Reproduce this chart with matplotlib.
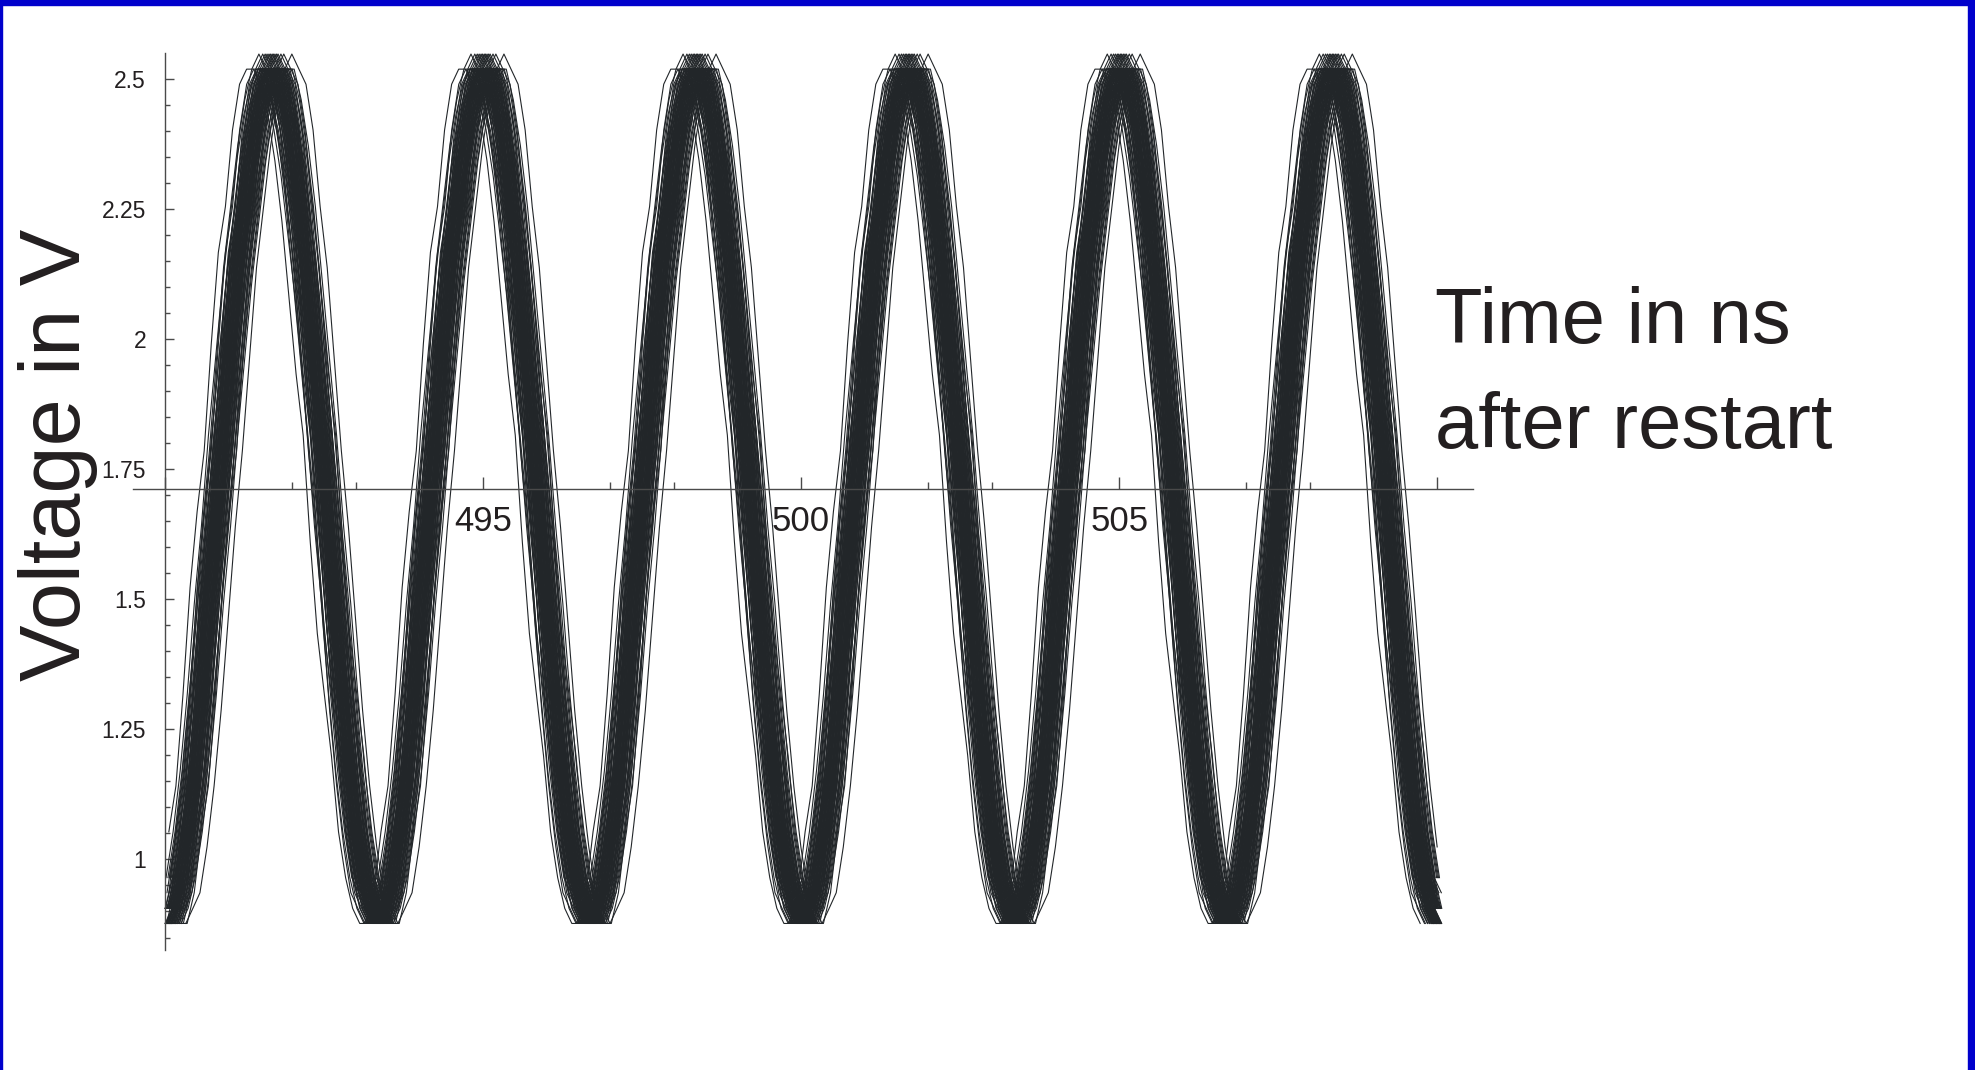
import numpy as np
import matplotlib.pyplot as plt
from matplotlib.patches import Rectangle
from matplotlib.ticker import MultipleLocator

plt.rcParams['font.family'] = ['Liberation Sans', 'DejaVu Sans']

# one period of each recorded waveform shape, 30 samples 1/9 ns apart (volts)
wave_a = [0.877, 0.906, 0.936, 1.024, 1.141, 1.287, 1.463, 1.639, 1.785, 1.961,
          2.137, 2.254, 2.371, 2.459, 2.518, 2.547, 2.518, 2.489, 2.401, 2.254,
          2.137, 1.961, 1.785, 1.639, 1.463, 1.287, 1.141, 1.024, 0.936, 0.906]
wave_b = [0.877, 0.906, 0.965, 1.053, 1.170, 1.317, 1.492, 1.639, 1.815, 1.961,
          2.108, 2.225, 2.342, 2.430, 2.489, 2.518, 2.518, 2.459, 2.371, 2.254,
          2.108, 1.961, 1.815, 1.639, 1.492, 1.317, 1.170, 1.053, 0.965, 0.906]
wave_c = [0.906, 0.906, 0.965, 1.053, 1.170, 1.317, 1.463, 1.639, 1.785, 1.932,
          2.078, 2.196, 2.313, 2.401, 2.459, 2.489, 2.459, 2.401, 2.313, 2.196,
          2.078, 1.932, 1.785, 1.639, 1.463, 1.317, 1.170, 1.053, 0.965, 0.936]
wave_d = [0.877, 0.877, 0.936, 1.053, 1.141, 1.317, 1.522, 1.668, 1.785, 1.990,
          2.166, 2.254, 2.401, 2.489, 2.518, 2.518, 2.489, 2.430, 2.342, 2.225,
          2.078, 1.932, 1.815, 1.610, 1.434, 1.317, 1.199, 1.053, 0.965, 0.906]
waves = [wave_a, wave_b, wave_c, wave_d]

# trigger jitter of every overlaid acquisition (ns) and the shape it shows
trace_shift = [-0.30, -0.233, -0.218, -0.203, -0.188, -0.18, -0.165, -0.158, -0.15,
               -0.143, -0.135, -0.128, -0.12,
               -0.113, -0.105, -0.101, -0.098, -0.09, -0.086, -0.083, -0.075, -0.071,
               -0.068, -0.06, -0.056, -0.053, -0.045, -0.041, -0.038, -0.03, -0.026,
               -0.023, -0.015, -0.011, -0.008, 0.0, 0.004, 0.008, 0.015, 0.019,
               0.023, 0.03, 0.034, 0.038, 0.045, 0.049, 0.053, 0.06, 0.064,
               0.068, 0.075, 0.079, 0.083, 0.09, 0.098, 0.105, 0.113,
               0.12, 0.128, 0.135, 0.143, 0.15, 0.158, 0.173, 0.18, 0.195, 0.21,
               0.225, 0.30]
trace_wave = [3, 1, 0, 2, 3, 1, 2, 0, 1, 3, 2, 1, 0,
              3, 1, 2, 1, 0, 3, 1, 2, 1, 3, 0, 1, 2, 3, 1, 0, 2, 1, 3, 1,
              0, 2, 3, 1, 0, 2, 3, 1, 2, 0, 1, 3, 2, 1, 0, 3, 1, 2, 1, 0,
              3, 1, 2, 1,
              3, 0, 1, 2, 3, 1, 0, 2, 1, 3, 1, 0]

t_start = 490.03
t_step = 1 / 9
n_periods = 6
t_first, t_last = 490.0, 510.07

x_ticks = [490, 495, 500, 505, 510]
x_labels = ['', '495', '500', '505', '']
y_ticks = [1, 1.25, 1.5, 1.75, 2, 2.25, 2.5]
y_labels = ['1', '1.25', '1.5', '1.75', '2', '2.25', '2.5']

W, H = 1975, 1070
fig = plt.figure(figsize=(W / 100, H / 100), dpi=100)
ax = fig.add_axes([133 / W, 120 / H, 1340 / W, 897 / H])

for shift, w in zip(trace_shift, trace_wave):
    v = np.array(waves[w] * n_periods + [waves[w][0]])
    t = t_start + shift + np.arange(len(v)) * t_step
    keep = (t >= t_first) & (t <= t_last)
    ax.plot(t[keep], v[keep], color='#222629', lw=0.8)

ax.set_xlim(489.5, 510.56)
ax.set_ylim(0.826, 2.549)
ax.spines['left'].set_position(('data', 490))
ax.spines['bottom'].set_position(('data', 1.711))
for s in ['top', 'right']:
    ax.spines[s].set_visible(False)
for s in ['left', 'bottom']:
    ax.spines[s].set_color('#4a4a4a')
    ax.spines[s].set_linewidth(1.0)

ax.set_xticks(x_ticks, x_labels)
ax.set_yticks(y_ticks, y_labels)
ax.xaxis.set_minor_locator(MultipleLocator(1))
ax.yaxis.set_minor_locator(MultipleLocator(0.05))
ax.tick_params(axis='x', which='major', direction='in', length=9, width=1,
               color='#4a4a4a', pad=11, labelsize=25, labelcolor='#231f20')
ax.tick_params(axis='x', which='minor', direction='in', length=5, width=1,
               color='#4a4a4a')
ax.tick_params(axis='y', which='major', direction='in', length=6.5, width=1,
               color='#4a4a4a', pad=13.5, labelsize=16.5, labelcolor='#231f20')
ax.tick_params(axis='y', which='minor', direction='in', length=3.6, width=1,
               color='#4a4a4a')

fig.text(58 / W, 1 - 455 / H, 'Voltage in V', rotation=90, ha='center',
         va='center', fontsize=61, color='#231f20')
fig.text(1435 / W, 1 - 343 / H, 'Time in ns', ha='left', va='baseline',
         fontsize=56, color='#231f20')
fig.text(1435 / W, 1 - 448 / H, 'after restart', ha='left', va='baseline',
         fontsize=56, color='#231f20')

# blue frame of the slide
blue = '#0000cc'
fig.patches.append(Rectangle((0, 1 - 5 / H), 1, 5 / H, transform=fig.transFigure,
                             color=blue, zorder=10))
fig.patches.append(Rectangle((0, 0), 2 / W, 1, transform=fig.transFigure,
                             color=blue, zorder=10))
fig.patches.append(Rectangle((1 - 7 / W, 0), 7 / W, 1, transform=fig.transFigure,
                             color=blue, zorder=10))

fig.savefig('out.png', dpi=100, facecolor='white')
